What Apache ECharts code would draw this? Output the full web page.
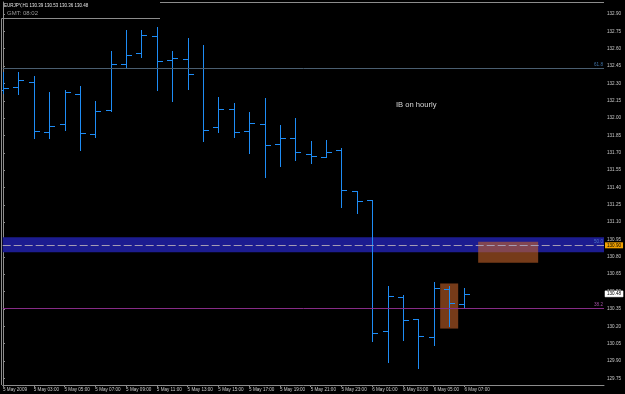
<!DOCTYPE html>
<html>
<head>
<meta charset="utf-8">
<script src="https://cdn.jsdelivr.net/npm/echarts@6/dist/echarts.min.js"></script>
<style>
html,body{margin:0;padding:0;background:#000;}
#c{width:625px;height:394px;}
</style>
</head>
<body>
<div id="c"></div>
<script>
// ---- data ----
const symbol = 'EURJPY,H1';
const xTickIdx = [0,2,4,6,8,10,12,14,16,18,20,22,24,26,28,30];
const xTickLabels = ['5 May 2009','5 May 03:00','5 May 05:00','5 May 07:00','5 May 09:00','5 May 11:00','5 May 13:00','5 May 15:00','5 May 17:00','5 May 19:00','5 May 21:00','5 May 23:00','6 May 01:00','6 May 03:00','6 May 05:00','6 May 07:00'];
const yTicks = [129.75,129.90,130.05,130.20,130.35,130.50,130.65,130.80,130.95,131.10,131.25,131.40,131.55,131.70,131.85,132.00,132.15,132.30,132.45,132.60,132.75,132.90];
const openP  = [132.24,132.27,132.31,131.88,131.95,132.21,131.86,132.07,132.47,132.56,132.71,132.50,132.51,132.43,131.92,132.08,131.89,131.95,131.78,131.83,131.69,131.66,131.72,131.37,131.29,130.16,130.45,130.26,130.11,130.52,130.39];
const highP  = [132.40,132.40,132.36,132.23,132.24,132.28,132.15,132.58,132.76,132.76,132.79,132.58,132.69,132.63,132.18,132.13,132.05,132.17,131.94,132.00,131.80,131.81,131.74,131.37,131.29,130.55,130.47,130.26,130.58,130.55,130.53];
const lowP   = [132.22,132.21,131.83,131.83,131.90,131.72,131.84,132.06,132.44,132.53,132.24,132.15,132.25,131.80,131.88,131.84,131.70,131.49,131.59,131.64,131.61,131.66,131.23,131.18,130.07,129.89,130.08,129.84,130.04,130.20,130.36];
const closeP = [132.26,132.33,131.89,131.93,132.23,131.87,132.06,132.47,132.55,132.72,132.49,132.52,132.38,131.90,132.08,131.88,131.96,131.77,131.83,131.71,131.67,131.71,131.38,131.28,130.14,130.46,130.25,130.12,130.53,130.40,130.48];
const fib618 = 132.43;
const fib500 = 130.90;
const fib382 = 130.36;
const band = [130.84, 130.97];
const currentPrice = 130.48;
const boxes = [ [30.89, 130.75, 34.79, 130.93], [28.42, 130.18, 29.59, 130.57] ];
const note = 'IB on hourly';

// ---- build ----
const n = closeP.length;
const barData = [];
for (let i = 0; i < n; i++) barData.push([i, openP[i], highP[i], lowP[i], closeP[i]]);
const lastI = n - 1;
const titleText = symbol + ' ' + [openP[lastI], highP[lastI], lowP[lastI], closeP[lastI]].map(v => v.toFixed(2)).join(' ');

function renderItem(params, api) {
  const x = api.value(0);
  const ph = api.coord([x, api.value(2)]);
  const pl = api.coord([x, api.value(3)]);
  const po = api.coord([x, api.value(1)]);
  const pc = api.coord([x, api.value(4)]);
  const px = Math.round(ph[0]) + 0.5;
  const st = { stroke: '#1e8cf5', lineWidth: 1 };
  const yo = Math.round(po[1]) + 0.5, yc = Math.round(pc[1]) + 0.5;
  return {
    type: 'group',
    children: [
      { type: 'line', shape: { x1: px, y1: Math.round(ph[1]), x2: px, y2: Math.round(pl[1]) + 1 }, style: st },
      { type: 'line', shape: { x1: px - 5.5, y1: yo, x2: px, y2: yo }, style: st },
      { type: 'line', shape: { x1: px, y1: yc, x2: px + 5.5, y2: yc }, style: st }
    ]
  };
}

const fnt = 'Liberation Sans';
const chart = echarts.init(document.getElementById('c'), null, { renderer: 'canvas' });
chart.setOption({
  backgroundColor: '#000000',
  animation: false,
  grid: { left: 2, right: 21, top: 2, bottom: 9, show: false },
  xAxis: {
    type: 'value', min: -0.02, max: 39.07,
    axisLine: { show: true, lineStyle: { color: '#8c8c8c', width: 1 } },
    axisTick: { show: true, customValues: xTickIdx, length: 2, lineStyle: { color: '#8c8c8c' } },
    axisLabel: {
      customValues: xTickIdx, color: '#c8c8c8', fontSize: 4.6, fontFamily: fnt, align: 'left', margin: 2,
      formatter: v => xTickLabels[xTickIdx.indexOf(Math.round(v))] || ''
    },
    splitLine: { show: false }
  },
  yAxis: {
    type: 'value', position: 'right', min: 129.692, max: 133.004,
    axisLine: { show: true, lineStyle: { color: '#8c8c8c', width: 1 } },
    axisTick: { show: true, customValues: yTicks, length: 2, lineStyle: { color: '#8c8c8c' } },
    axisLabel: { customValues: yTicks, color: '#c8c8c8', fontSize: 4.6, fontFamily: fnt, margin: 3, formatter: v => v.toFixed(2) },
    splitLine: { show: false }
  },
  graphic: [
    { type: 'polyline', shape: { points: [[1.5, 385], [1.5, 18.5], [160, 18.5]] }, style: { stroke: '#8c8c8c', fill: null, lineWidth: 1 }, silent: true },
    { type: 'line', shape: { x1: 160, y1: 2.5, x2: 604, y2: 2.5 }, style: { stroke: '#8c8c8c', lineWidth: 1 }, silent: true },
    { type: 'text', left: 4, top: 3, style: { text: titleText, fill: '#e6e6e6', font: '4.5px ' + fnt } },
    { type: 'text', left: 7, top: 10.5, style: { text: 'GMT: 08:02', fill: '#9a9a9a', font: '6px ' + fnt } },
    { type: 'text', left: 396, top: 100.5, style: { text: note, fill: '#d8d8d8', font: '7.6px ' + fnt } }
  ],
  series: [
    {
      type: 'line', data: [], z: 1, silent: true,
      markArea: { silent: true, itemStyle: { color: '#1c1c90' }, data: [[{ yAxis: band[0] }, { yAxis: band[1] }]] },
      markLine: {
        silent: true, symbol: 'none', animation: false,
        data: [
          { yAxis: fib618, lineStyle: { color: '#4a5e70', width: 1, type: 'solid' },
            label: { show: true, position: 'insideEndTop', formatter: '61.8', color: '#3f73a8', fontSize: 4.6, fontFamily: fnt, distance: [1, 1] } },
          { yAxis: fib500, lineStyle: { color: '#a49cb4', width: 1, type: [8, 3] },
            label: { show: true, position: 'insideEndTop', formatter: '50.0', color: '#4f78c8', fontSize: 4.6, fontFamily: fnt, distance: [1, 1] } },
          { yAxis: fib382, lineStyle: { color: '#862c86', width: 1, type: 'solid' },
            label: { show: true, position: 'insideEndTop', formatter: '38.2', color: '#a050a0', fontSize: 4.6, fontFamily: fnt, distance: [1, 1] } }
        ]
      }
    },
    {
      type: 'custom', renderItem: renderItem, data: barData, z: 2, clip: true,
      encode: { x: 0, y: [1, 2, 3, 4] }
    },
    {
      type: 'line', data: [], z: 3, silent: true,
      markArea: {
        silent: true, itemStyle: { color: 'rgba(196,98,42,0.6)' },
        data: boxes.map(b => [{ coord: [b[0], b[1]] }, { coord: [b[2], b[3]] }])
      }
    },
    {
      type: 'line', data: [], z: 4, silent: true,
      markLine: {
        silent: true, symbol: 'none', animation: false,
        lineStyle: { color: 'rgba(0,0,0,0)', width: 0 },
        data: [
          { yAxis: fib500,
            label: { show: true, position: 'end', distance: 1, formatter: fib500.toFixed(2), color: '#000', backgroundColor: '#f0a000', fontSize: 4.6, fontFamily: fnt, padding: [1, 2, 0, 2] } },
          { yAxis: currentPrice,
            label: { show: true, position: 'end', distance: 1, formatter: currentPrice.toFixed(2), color: '#000', backgroundColor: '#ffffff', borderColor: '#808080', borderWidth: 0.5, fontSize: 4.6, fontFamily: fnt, padding: [1, 2, 0, 2] } }
        ]
      }
    }
  ]
});
</script>
</body>
</html>
